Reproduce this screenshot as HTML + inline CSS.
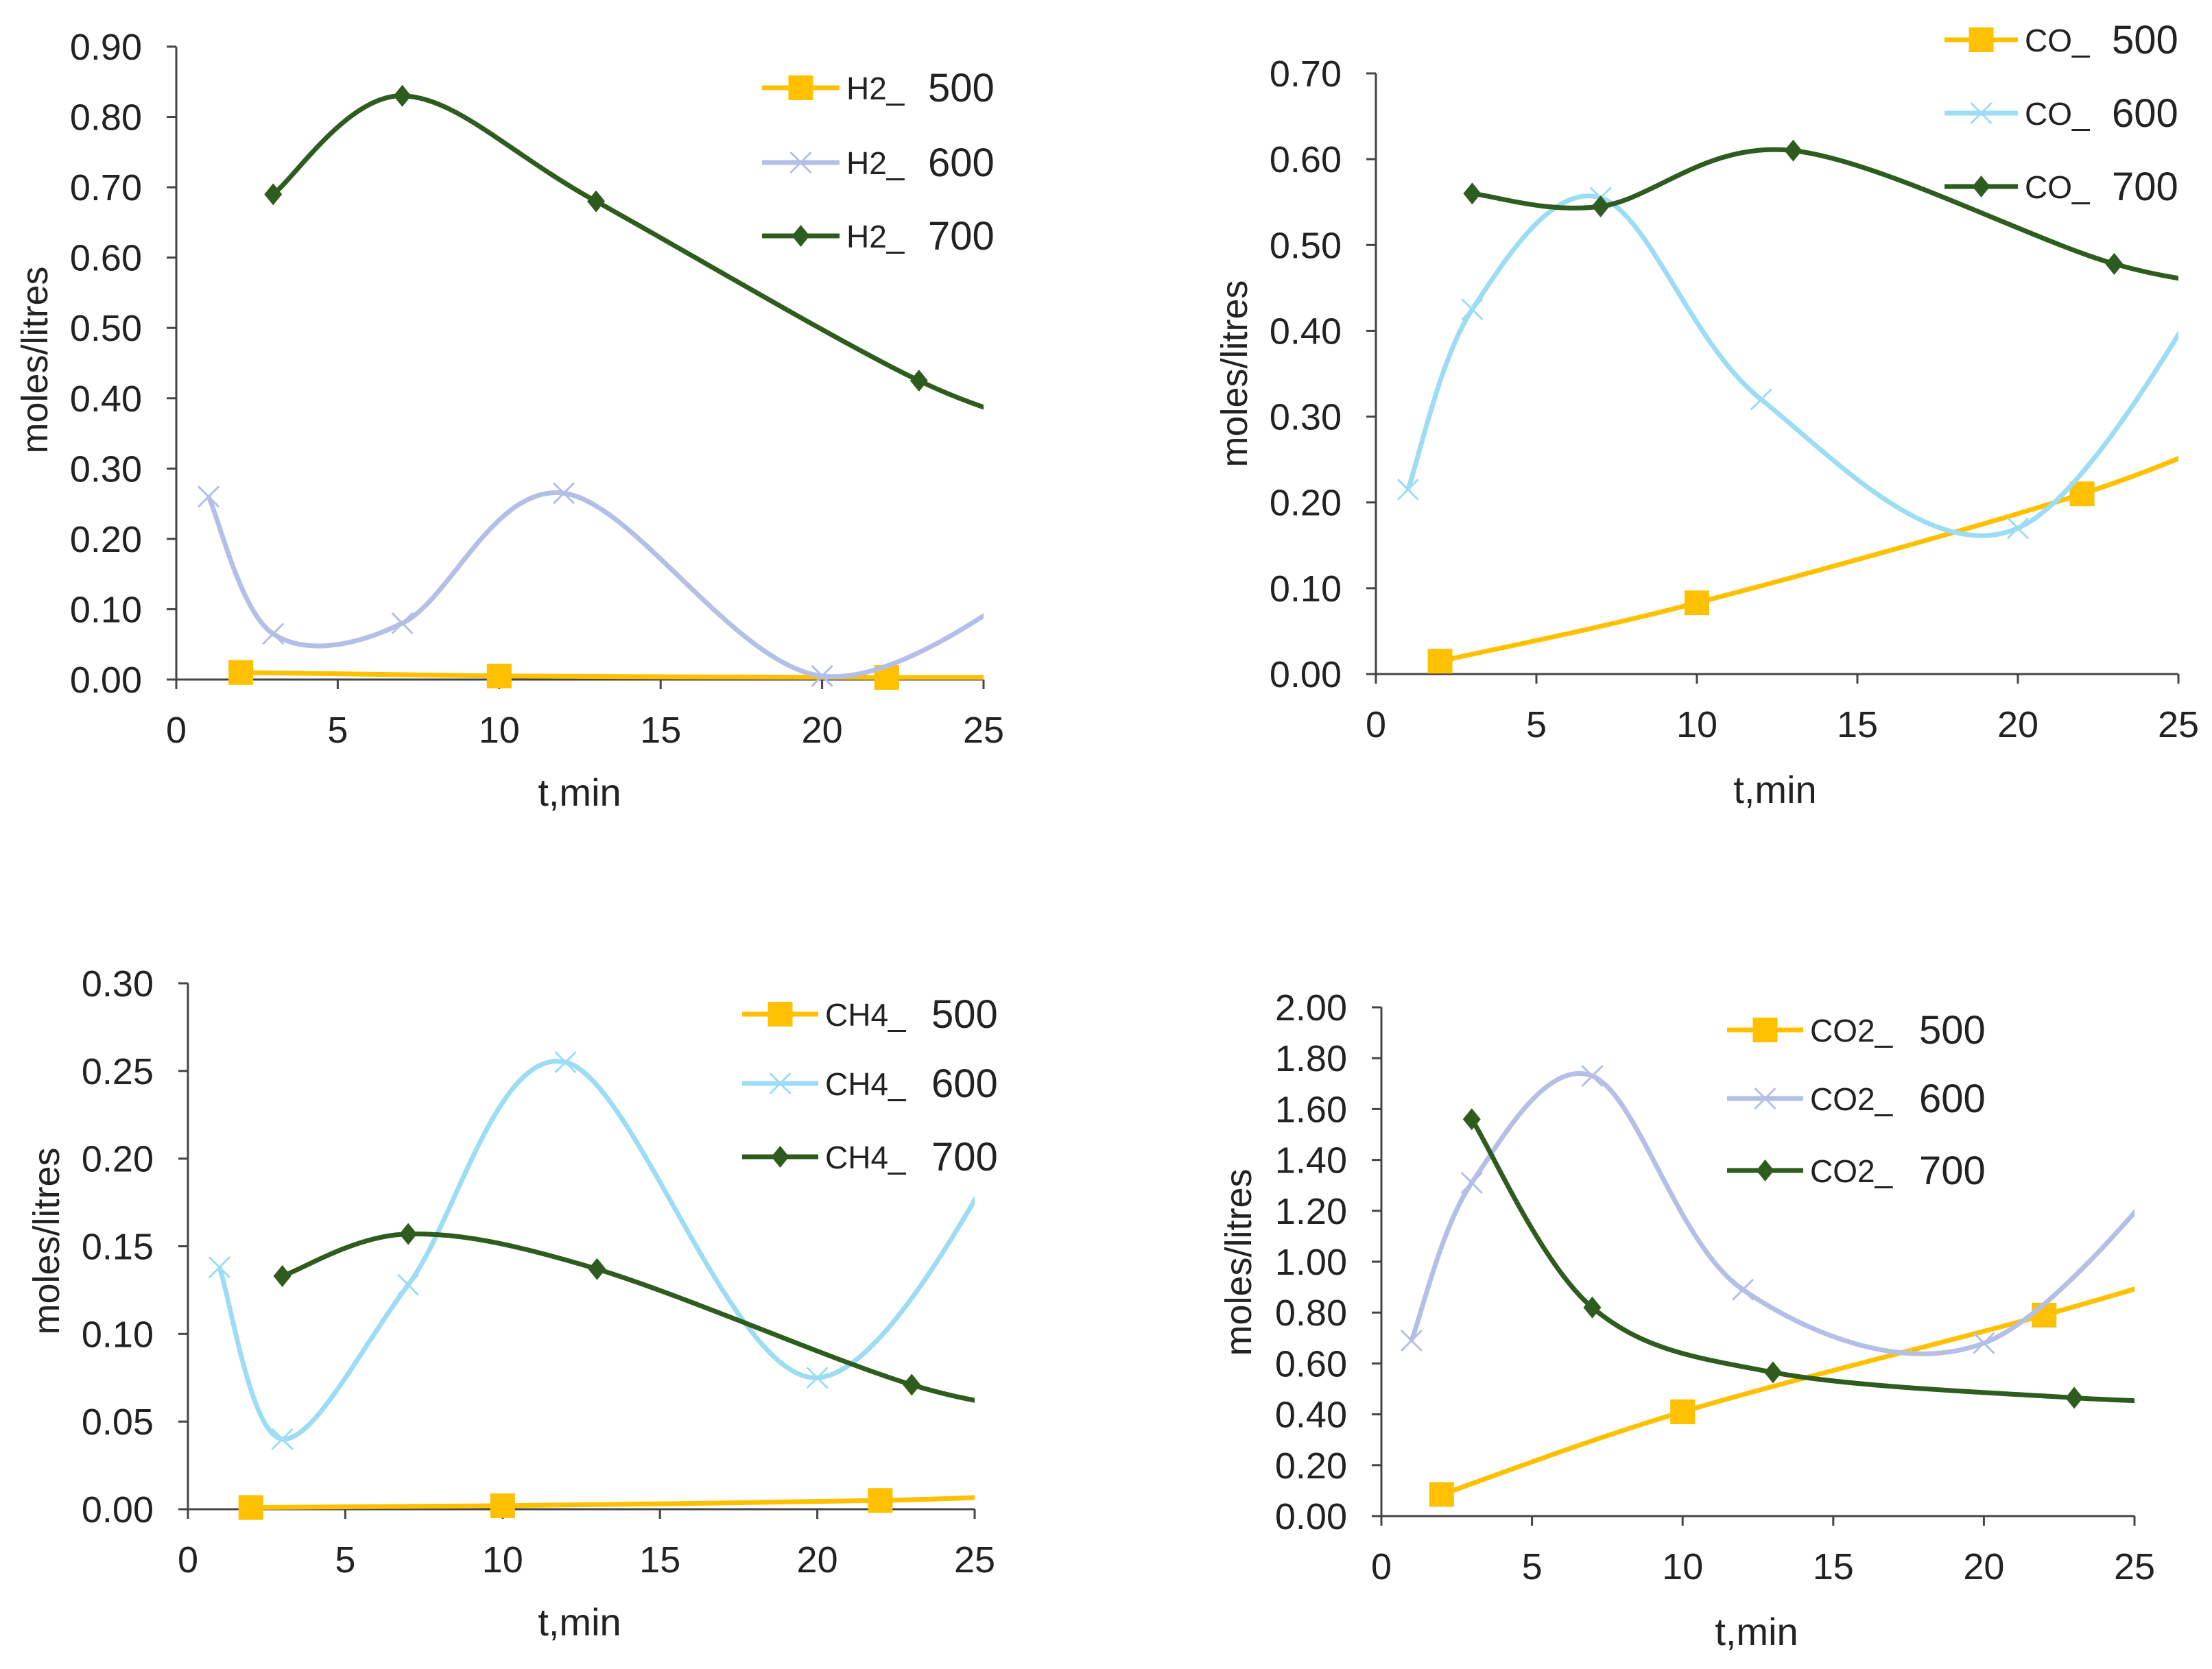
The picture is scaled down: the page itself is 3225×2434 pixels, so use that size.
<!DOCTYPE html>
<html><head><meta charset="utf-8"><style>
html,body{margin:0;padding:0;background:#fff;}
svg{display:block;font-family:"Liberation Sans Narrow","Liberation Sans",sans-serif;}
</style></head><body>
<svg id="root" width="3225" height="2434" viewBox="0 0 3225 2434"></svg>
<script>
const xTicks=[0,5,10,15,20,25];
// Chart 1 H2
const h2T500=[2,10,22,28], h2V500=[0.01,0.005,0.003,0.003];
const h2T600=[1,3,7,12,20,28], h2V600=[0.26,0.065,0.08,0.265,0.005,0.18];
const h2T700=[3,7,13,23,28], h2V700=[0.69,0.83,0.68,0.425,0.35];
const h2YTicks=[0,0.1,0.2,0.3,0.4,0.5,0.6,0.7,0.8,0.9];
// Chart 2 CO
const coT500=[2,10,22,28], coV500=[0.015,0.083,0.21,0.30];
const coT600=[1,3,7,12,20,28], coV600=[0.215,0.425,0.555,0.32,0.17,0.58];
const coT700=[3,7,13,23,28], coV700=[0.56,0.545,0.61,0.478,0.45];
const coYTicks=[0,0.1,0.2,0.3,0.4,0.5,0.6,0.7];
// Chart 3 CH4
const ch4T500=[2,10,22,28], ch4V500=[0.001,0.002,0.005,0.009];
const ch4T600=[1,3,7,12,20,28], ch4V600=[0.138,0.04,0.128,0.255,0.075,0.27];
const ch4T700=[3,7,13,23,28], ch4V700=[0.133,0.157,0.137,0.071,0.055];
const ch4YTicks=[0,0.05,0.1,0.15,0.2,0.25,0.3];
// Chart 4 CO2
const co2T500=[2,10,22,28], co2V500=[0.085,0.41,0.79,1.0];
const co2T600=[1,3,7,12,20,28], co2V600=[0.69,1.31,1.73,0.89,0.68,1.6];
const co2T700=[3,7,13,23,28], co2V700=[1.56,0.82,0.565,0.465,0.45];
const co2YTicks=[0,0.2,0.4,0.6,0.8,1.0,1.2,1.4,1.6,1.8,2.0];

const NS='http://www.w3.org/2000/svg';
const root=document.getElementById('root');
function mk(tag,attrs,parent){const e=document.createElementNS(NS,tag);for(const k in attrs)e.setAttribute(k,attrs[k]);(parent||root).appendChild(e);return e;}

const YEL='#FFC000', GRN='#2E5C1E';
const charts=[
 {id:'h2',x0:257,x1:1434,y0:991,y1:68,ymax:0.9,yt:h2YTicks,dec:2,label:'H2_',c600:'#B3BFE6',
  s:[[h2T500,h2V500],[h2T600,h2V600],[h2T700,h2V700]],
  ylab:[51,525],xlab:[845,1156],leg:{lx:1111,lw:113,ys:[128,237,344],tx:1234,nx:1353}},
 {id:'co',x0:2006,x1:3176,y0:983,y1:107,ymax:0.7,yt:coYTicks,dec:2,label:'CO_',c600:'#9CDDF5',
  s:[[coT500,coV500],[coT600,coV600],[coT700,coV700]],
  ylab:[1800,545],xlab:[2588,1152],leg:{lx:2835,lw:107,ys:[58,165,272],tx:2952,nx:3079}},
 {id:'ch4',x0:274,x1:1421,y0:2201,y1:1434,ymax:0.3,yt:ch4YTicks,dec:2,label:'CH4_',c600:'#9CDDF5',
  s:[[ch4T500,ch4V500],[ch4T600,ch4V600],[ch4T700,ch4V700]],
  ylab:[68,1810],xlab:[845,2366],leg:{lx:1082,lw:111,ys:[1479,1580,1687],tx:1203,nx:1358}},
 {id:'co2',x0:2014,x1:3112,y0:2211,y1:1469,ymax:2.0,yt:co2YTicks,dec:2,label:'CO2_',c600:'#B3BFE6',
  s:[[co2T500,co2V500],[co2T600,co2V600],[co2T700,co2V700]],
  ylab:[1806,1841],xlab:[2561,2380],leg:{lx:2518,lw:111,ys:[1502,1602,1707],tx:2639,nx:2798}}
];

function smoothPath(pts){
  if(pts.length<2)return '';
  let d='M'+pts[0][0]+','+pts[0][1];
  for(let i=0;i<pts.length-1;i++){
    const p0=pts[Math.max(0,i-1)],p1=pts[i],p2=pts[i+1],p3=pts[Math.min(pts.length-1,i+2)];
    const c1=[p1[0]+(p2[0]-p0[0])/6,p1[1]+(p2[1]-p0[1])/6];
    const c2=[p2[0]-(p3[0]-p1[0])/6,p2[1]-(p3[1]-p1[1])/6];
    d+=' C'+c1[0]+','+c1[1]+' '+c2[0]+','+c2[1]+' '+p2[0]+','+p2[1];
  }
  return d;
}
function marker(kind,x,y,color,g){
  let m;
  if(kind===0){m=mk('rect',{x:x-18,y:y-18,width:36,height:36,fill:color},g);}
  else if(kind===1){m=mk('path',{d:`M${x-15},${y-15}L${x+15},${y+15}M${x-15},${y+15}L${x+15},${y-15}`,stroke:color,'stroke-width':3,fill:'none'},g);}
  else {m=mk('path',{d:`M${x},${y-16}L${x+13},${y}L${x},${y+16}L${x-13},${y}Z`,fill:color},g);}
  return m;
}

charts.forEach(c=>{
  const g=mk('g',{});
  
  
  const sx=t=>c.x0+(t/25)*(c.x1-c.x0);
  const sy=v=>c.y0-(v/c.ymax)*(c.y0-c.y1);
  const cp=mk('clipPath',{id:'clip-'+c.id},g);
  mk('rect',{x:c.x0,y:c.y1-200,width:c.x1-c.x0,height:c.y0-c.y1+260},cp);
  const ax=mk('path',{d:`M${c.x0},${c.y1}V${c.y0}H${c.x1}`,stroke:'#444',fill:'none','stroke-width':3},g);
  
  
  c.yt.forEach(v=>{
    const y=sy(v);
    mk('line',{x1:c.x0-14,x2:c.x0,y1:y,y2:y,stroke:'#444','stroke-width':3},g);
    const t=mk('text',{x:c.x0-50,y:y+19,'text-anchor':'end','font-size':54,fill:'#222'},g);
    t.textContent=v.toFixed(c.dec);
    
    
  });
  xTicks.forEach(v=>{
    const x=sx(v);
    mk('line',{x1:x,x2:x,y1:c.y0,y2:c.y0+14,stroke:'#444','stroke-width':3},g);
    const t=mk('text',{x:x,y:c.y0+92,'text-anchor':'middle','font-size':54,fill:'#222'},g);
    t.textContent=v;
    
    
  });
  const yl=mk('text',{x:c.ylab[0],y:c.ylab[1],'text-anchor':'middle','font-size':54,fill:'#222',transform:`rotate(-90 ${c.ylab[0]} ${c.ylab[1]})`,'dominant-baseline':'central'},g);
  yl.textContent='moles/litres';
  
  
  const xl=mk('text',{x:c.xlab[0],y:c.xlab[1]+19,'text-anchor':'middle','font-size':56,fill:'#222'},g);
  xl.textContent='t,min';
  
  
  const colors=[YEL,c.c600,GRN], temps=['500','600','700'];
  c.s.forEach((s,i)=>{
    const pts=s[0].map((t,j)=>[sx(t),sy(s[1][j])]);
    const sg=mk('g',{'clip-path':`url(#clip-${c.id})`},g);
    
    
    mk('path',{d:smoothPath(pts),stroke:colors[i],'stroke-width':7,fill:'none'},sg);
    s[0].forEach((t,j)=>{
      if(t<=25){const m=marker(i,sx(t),sy(s[1][j]),colors[i],sg);
        
        }
    });
    const L=c.leg, ly=L.ys[i];
    const lg=mk('g',{},g);
    
    
    mk('line',{x1:L.lx,x2:L.lx+L.lw,y1:ly,y2:ly,stroke:colors[i],'stroke-width':7},lg);
    marker(i,L.lx+L.lw/2,ly,colors[i],lg);
    const t1=mk('text',{x:L.tx,y:ly+17,'font-size':46,fill:'#222'},lg);t1.textContent=c.label;
    const t2=mk('text',{x:L.nx,y:ly+20,'font-size':58,fill:'#222'},lg);t2.textContent=temps[i];
  });
});
</script>
</body></html>
